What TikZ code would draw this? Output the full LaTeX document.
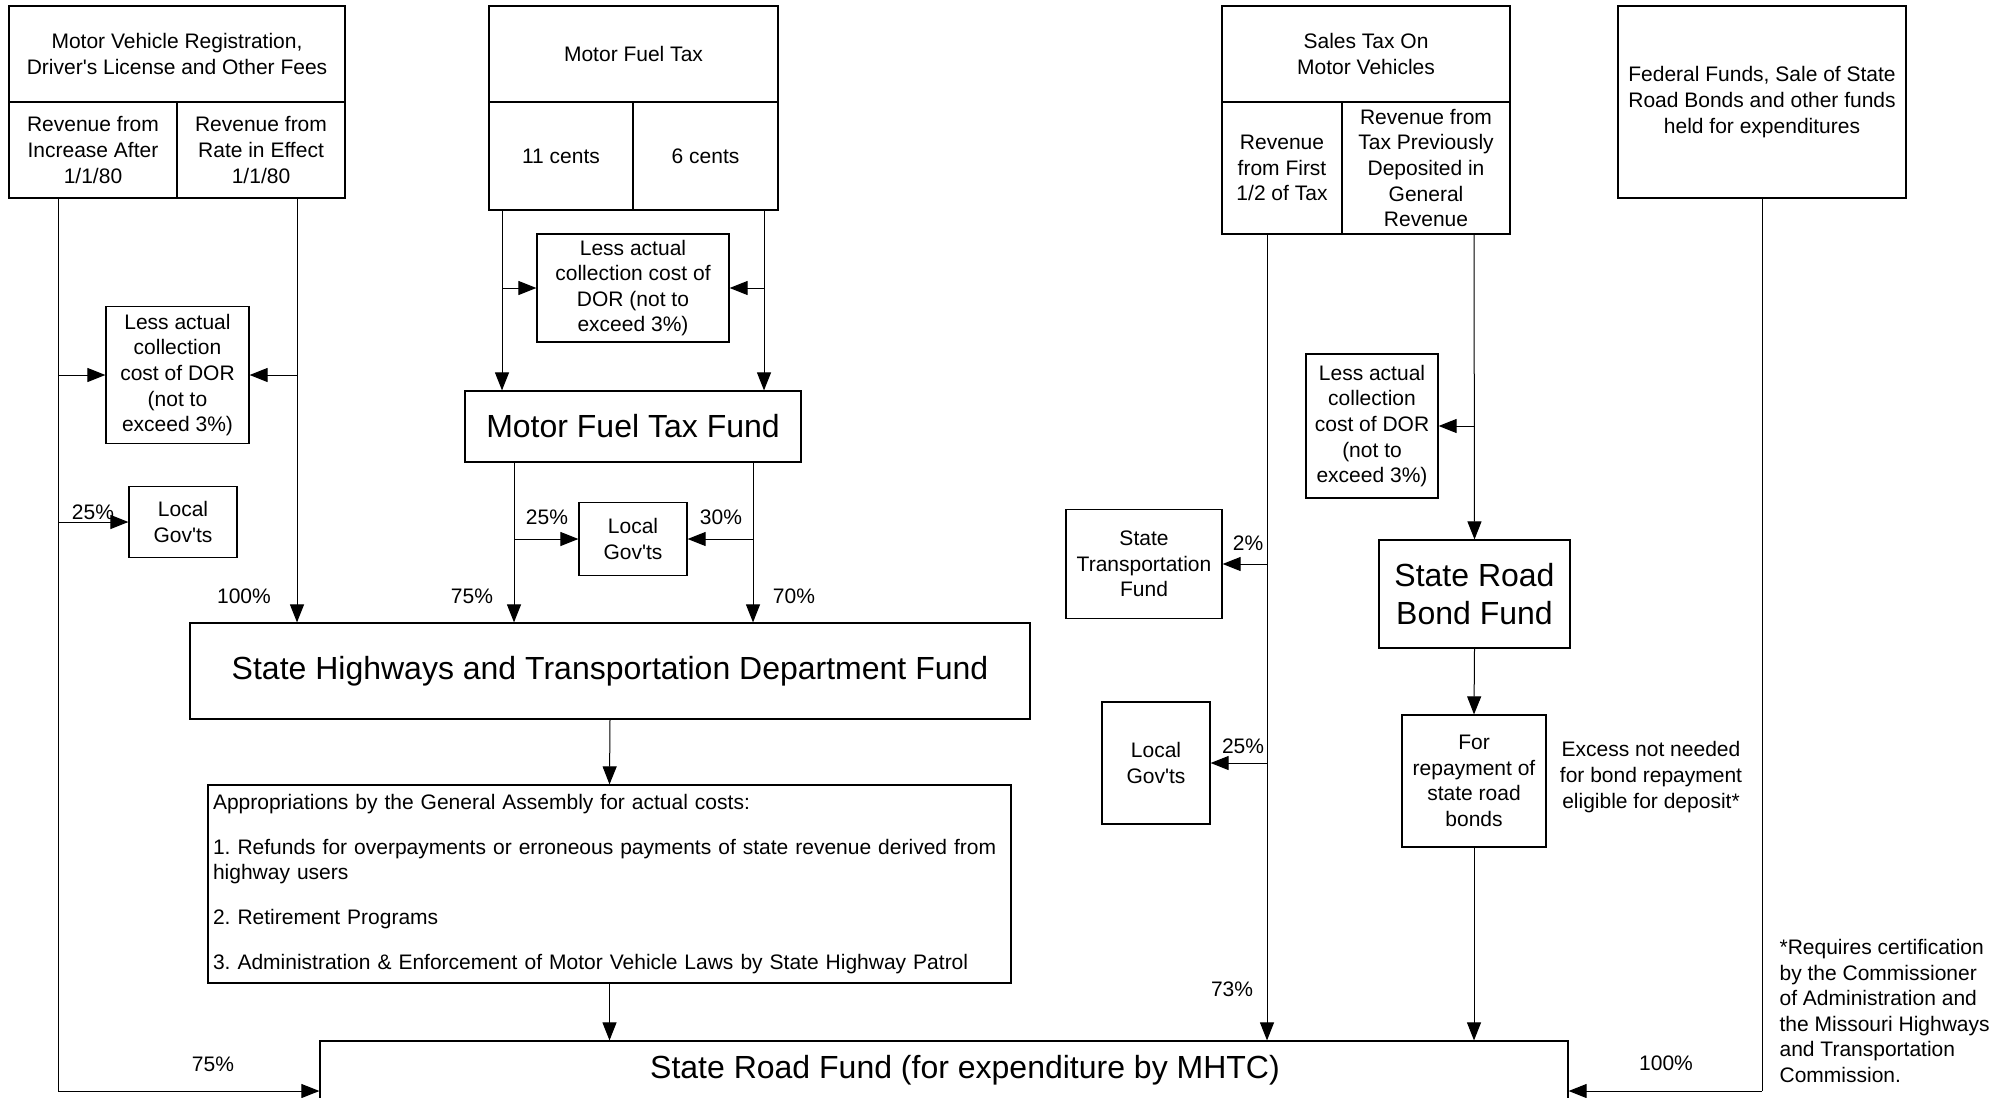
\documentclass[tikz,border=0pt]{standalone}
\usepackage{fontspec}
\setmainfont{Liberation Sans}[Ligatures=TeXOff]
\usepackage{tikz}
\usetikzlibrary{arrows.meta,positioning}
\newcommand{\smallfnt}{\fontsize{10.5}{12.8}\selectfont}
\newcommand{\bigfnt}{\fontsize{16}{19}\selectfont}
\frenchspacing

\begin{document}
\begin{tikzpicture}[x=0.5pt,y=-0.5pt,line width=0.5pt,
	bx/.style={draw,line width=0.6pt,inner sep=0pt,align=center,font=\smallfnt},
	arr/.style={-{Triangle[length=9pt,width=7pt]}},
	pct/.style={font=\smallfnt,inner sep=0pt}]
	\path[use as bounding box] (0,0) rectangle (1996,1097);
	\clip (0,0) rectangle (1996,1097);
	\node[bx,minimum width=168pt,minimum height=48pt] (0) at (177,54) {Motor Vehicle Registration,\\Driver's License and Other Fees};
	\node[bx,minimum width=84pt,minimum height=48pt] (1) at (93,150) {Revenue from\\Increase After\\1/1/80};
	\node[bx,minimum width=84pt,minimum height=48pt] (2) at (261,150) {Revenue from\\Rate in Effect\\1/1/80};
	\node[bx,minimum width=144.5pt,minimum height=48pt] (3) at (633.5,54) {Motor Fuel Tax};
	\node[bx,minimum width=72pt,minimum height=54pt] (4) at (561,156) {11 cents};
	\node[bx,minimum width=72.5pt,minimum height=54pt] (5) at (705.5,156) {6 cents};
	\node[bx,minimum width=144pt,minimum height=48pt] (6) at (1366,54) {Sales Tax On\\Motor Vehicles};
	\node[bx,minimum width=60pt,minimum height=66pt] (7) at (1282,168) {Revenue\\from First\\1/2 of Tax};
	\node[bx,minimum width=84pt,minimum height=66pt] (8) at (1426,168) {Revenue from\\Tax Previously\\Deposited in\\General\\Revenue};
	\node[bx,minimum width=144pt,minimum height=96pt] (9) at (1762,102) {Federal Funds, Sale of State\\Road Bonds and other funds\\held for expenditures};
	\node[bx,minimum width=71.5pt,minimum height=68.5pt] (10) at (177.5,375) {Less actual\\collection\\cost of DOR\\(not to\\exceed 3\%)};
	\node[bx,minimum width=96pt,minimum height=54pt] (11) at (633,288) {Less actual\\collection cost of\\DOR (not to\\exceed 3\%)};
	\node[bx,font=\bigfnt,minimum width=168pt,minimum height=35.5pt] (12) at (633,426.5) {Motor Fuel Tax Fund};
	\node[bx,minimum width=54pt,minimum height=35.5pt] (13) at (183,522) {Local\\Gov'ts};
	\node[bx,minimum width=54pt,minimum height=36.5pt] (14) at (633,539) {Local\\Gov'ts};
	\node[bx,font=\bigfnt,minimum width=420pt,minimum height=48pt] (15) at (610,671) {State Highways and Transportation Department Fund};
	\node[bx,align=left,inner xsep=2.5pt,text width=396.5pt,minimum height=99pt] (16) at (609.5,884) {Appropriations by the General Assembly for actual costs:\\[9.7pt]
		1. Refunds for overpayments or erroneous payments of state revenue derived from\\highway users\\[9.7pt]
		2. Retirement Programs\\[9.7pt]
		3. Administration \& Enforcement of Motor Vehicle Laws by State Highway Patrol};
	\node[bx,font=\bigfnt,minimum width=624pt,minimum height=29.5pt] (17) at (944,1070.5) {\hspace*{21pt}State Road Fund (for expenditure by MHTC)};
	\node[bx,minimum width=66pt,minimum height=72pt] (18) at (1372,426) {Less actual\\collection\\cost of DOR\\(not to\\exceed 3\%)};
	\node[bx,minimum width=78pt,minimum height=54.5pt] (19) at (1144,564) {State\\Transportation\\Fund};
	\node[bx,minimum width=54pt,minimum height=61pt] (20) at (1156,763) {Local\\Gov'ts};
	\node[bx,font=\bigfnt,minimum width=95.5pt,minimum height=54pt] (21) at (1474.5,594) {State Road\\Bond Fund};
	\node[bx,minimum width=72pt,minimum height=66pt] (22) at (1474,781) {For\\repayment of\\state road\\bonds};
	\node[bx,draw=none] (23) at (1651,777) {Excess not needed\\for bond repayment\\eligible for deposit*};
	\node[bx,draw=none,align=left,anchor=west] (24) at (1779,1011) {*Requires certification\\by the Commissioner\\of Administration and\\the Missouri Highways\\and Transportation\\Commission.};
	\coordinate (a) at (58,375);
	\coordinate (b) at (58,522);
	\coordinate (c) at (58,1091);
	\coordinate (d) at (297,375);
	\coordinate (e) at (502,288);
	\coordinate (f) at (764,288);
	\coordinate (g) at (514,539);
	\coordinate (h) at (753,539);
	\coordinate (i) at (1267,564);
	\coordinate (j) at (1267,763);
	\coordinate (k) at (1474,426);
	\coordinate (l) at (1762,1091);
	\draw (1.south -| a) -- (c);
	\draw[arr] (c) -- (17.west |- c);
	\draw[arr] (a) -- (10.west);
	\draw[arr] (b) -- (13.west);
	\draw[arr] (2.south -| d) -- (15.north -| d);
	\draw[arr] (d) -- (10.east);
	\draw[arr] (4.south -| e) -- (12.north -| e);
	\draw[arr] (e) -- (11.west);
	\draw[arr] (5.south -| f) -- (12.north -| f);
	\draw[arr] (f) -- (11.east);
	\draw[arr] (12.south -| g) -- (15.north -| g);
	\draw[arr] (g) -- (14.west);
	\draw[arr] (12.south -| h) -- (15.north -| h);
	\draw[arr] (h) -- (14.east);
	\draw[arr] (15.south) -- (16.north);
	\draw[arr] (16.south) -- (17.north -| 16.south);
	\draw[arr] (7.south -| i) -- (17.north -| i);
	\draw[arr] (i) -- (19.east);
	\draw[arr] (j) -- (20.east);
	\draw[arr] (8.south -| k) -- (21.north);
	\draw[arr] (k) -- (18.east);
	\draw[arr] (21.south) -- (22.north);
	\draw[arr] (22.south) -- (17.north -| 22.south);
	\draw (9.south) -- (l);
	\draw[arr] (l) -- (17.east |- l);
	\node[pct] (25) at (93,512) {25\%};
	\node[pct] (26) at (244,596) {100\%};
	\node[pct] (27) at (472,596) {75\%};
	\node[pct] (28) at (794,596) {70\%};
	\node[pct] (29) at (547,517) {25\%};
	\node[pct] (30) at (721,517) {30\%};
	\node[pct] (31) at (213,1064) {75\%};
	\node[pct] (32) at (1248,543) {2\%};
	\node[pct] (33) at (1243,746) {25\%};
	\node[pct] (34) at (1232,989) {73\%};
	\node[pct] (35) at (1666,1063) {100\%};
\end{tikzpicture}
\end{document}
